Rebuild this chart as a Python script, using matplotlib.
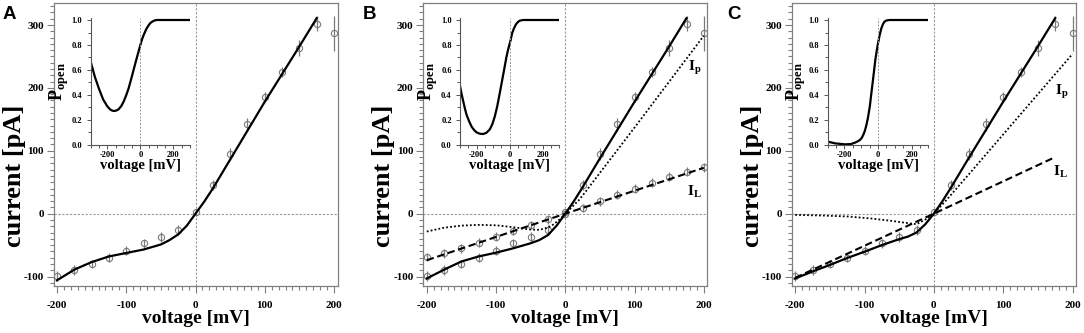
import numpy as np
import matplotlib
matplotlib.use("Agg")
import matplotlib.pyplot as plt
from matplotlib.ticker import MultipleLocator, FormatStrFormatter

plt.rcParams.update({
    "font.family": "Liberation Serif",
    "font.weight": "bold",
    "axes.unicode_minus": False,
    "mathtext.fontset": "custom",
    "mathtext.rm": "Liberation Serif",
    "mathtext.bf": "Liberation Serif:bold",
})

# measured points (mV, pA)
volt = [-200, -175, -150, -125, -100, -75, -50, -25, 0, 25, 50, 75, 100, 125, 150, 175, 200]
cur_total = [-99, -90, -80, -70, -58.6, -47, -37, -25.5, 2, 46, 95, 142, 185, 226, 263, 302, 287]
err_total = [8, 8, 7, 7, 7, 7, 8, 8, 5, 8, 9, 10, 8, 8, 13, 12, 28]
cur_leak = [-69, -63, -55, -46, -36.5, -27.5, -18, -8.7, 0, 9, 20, 30, 39.5, 49, 59, 67, 74]
err_leak = [7, 7, 7, 7, 7, 7, 7, 7, 5, 7, 7, 7, 7, 7, 7, 7, 7]

# fitted curves
fit_v = [-200, -175, -150, -125, -100, -75, -50, -37.5, -25, -12.5, 0, 12.5, 25, 50, 75, 100, 125, 150, 175]
fit_a = [-106, -89, -77, -68, -62.5, -57, -49, -42, -33, -19, 0, 19, 40, 86, 132, 178, 222, 266, 311]
fit_b = [-103, -89, -76, -68, -62, -55, -47, -42, -34, -19, 0, 20, 42, 88, 133, 178, 222, 266, 311]
fit_c = [-103, -92, -81.5, -70.5, -60.5, -50, -40.5, -36.5, -30, -17, 0, 20, 42, 88, 133, 178, 222, 266, 311]

ip_b_v = [-200, -175, -150, -125, -100, -75, -50, -37.5, -25, -19.5, -12.5, -6, 0, 10, 20, 30, 50, 100, 150, 200]
ip_b = [-28.4, -22.3, -19, -17.8, -18.5, -21.5, -25.3, -25.7, -22, -19, -13, -7, 0, 11, 22, 36, 65, 137, 210, 283]
il_b_v = [-200, 0, 200]
il_b = [-74, 0, 73]

ip_c_v = [-200, -162, -124, -90, -61, -37, -25, -13, 0, 20, 50, 100, 150, 200]
ip_c = [-1.9, -2.9, -4.5, -7.7, -11.4, -15.1, -16.7, -9.8, 0, 24, 62, 126, 190, 254]
il_c_v = [-200, 0, 175]
il_c = [-102, 0, 90]

# open probability insets
po_a_v = [-300, -275, -250, -225, -200, -183, -170, -157, -145, -132, -115, -100, -85, -71, -55, -41,
          -27, -14, 0, 10, 20, 35, 47, 60, 71, 85, 100, 150, 300]
po_a = [0.666, 0.546, 0.45, 0.365, 0.31, 0.285, 0.275, 0.272, 0.276, 0.285, 0.312, 0.35, 0.40, 0.453,
        0.53, 0.60, 0.67, 0.733, 0.80, 0.845, 0.88, 0.925, 0.952, 0.975, 0.986, 0.996, 1.0, 1.0, 1.0]
po_b_v = [-300, -290, -280, -270, -260, -245, -230, -215, -200, -180, -160, -140, -120, -105, -90, -75,
          -60, -45, -30, -20, -10, 6, 15, 26, 38, 50, 60, 80, 150, 300]
po_b = [0.472, 0.405, 0.347, 0.29, 0.24, 0.19, 0.147, 0.12, 0.101, 0.09, 0.088, 0.098, 0.125, 0.165,
        0.227, 0.31, 0.413, 0.52, 0.627, 0.70, 0.76, 0.84, 0.895, 0.933, 0.965, 0.984, 0.994, 1.0, 1.0, 1.0]
po_c_v = [-300, -255, -196, -160, -137, -120, -108, -98, -88, -78, -69, -59, -49, -40, -30, -23, -16,
          -8, 0, 10, 20, 30, 39, 50, 69, 150, 300]
po_c = [0.027, 0.013, 0.005, 0.008, 0.019, 0.03, 0.04, 0.055, 0.08, 0.115, 0.16, 0.225, 0.307, 0.41,
        0.52, 0.60, 0.68, 0.75, 0.813, 0.88, 0.933, 0.968, 0.987, 0.996, 1.0, 1.0, 1.0]

W, H = 1084, 333
GRAY = "#808080"
PT = "#7a7a7a"


def px_axes(fig, left, right, top, bottom):
    return fig.add_axes([left / W, (H - bottom) / H, (right - left) / W, (bottom - top) / H])


def style_main(ax):
    ax.set_xlim(-205, 205)
    ax.set_ylim(-115, 335)
    ax.xaxis.set_major_locator(MultipleLocator(100))
    ax.xaxis.set_minor_locator(MultipleLocator(10))
    ax.yaxis.set_major_locator(MultipleLocator(100))
    ax.yaxis.set_minor_locator(MultipleLocator(10))
    ax.tick_params(which="both", direction="out", color=GRAY, width=0.8)
    ax.tick_params(which="major", length=5, labelsize=8)
    ax.tick_params(which="minor", length=3)
    ax.tick_params(axis="x", which="major", pad=6)
    ax.tick_params(axis="y", which="major", pad=2)
    for s in ax.spines.values():
        s.set_color(GRAY)
        s.set_linewidth(0.9)
    ax.axhline(0, color="#999999", lw=0.8, ls=(0, (2, 1.5)), zorder=1)
    ax.axvline(0, color="#999999", lw=0.8, ls=(0, (2, 1.5)), zorder=1)
    ax.set_xlabel("voltage [mV]", fontsize=14, fontweight="bold")
    ax.set_ylabel("current [pA]", fontsize=19, fontweight="bold")
    ax.xaxis.set_label_coords(0.5, -0.085)
    ax.yaxis.set_label_coords(-0.098, 0.39)


def points(ax, y, e):
    ax.errorbar(volt, y, yerr=e, fmt="o", mfc="none", mec=PT, ecolor=PT,
                ms=4.5, mew=0.8, elinewidth=0.9, capsize=0, zorder=2)


def inset(fig, left, right, pv, pp):
    ax = px_axes(fig, left, right, 17.5, 145)
    ax.plot(pv, pp, color="black", lw=1.6)
    ax.axvline(0, color="#999999", lw=0.7, ls=(0, (2, 1.5)))
    ax.set_xlim(-300, 300)
    ax.set_ylim(0, 1.02)
    ax.spines["top"].set_visible(False)
    ax.spines["right"].set_visible(False)
    for s in ("left", "bottom"):
        ax.spines[s].set_color("#555555")
        ax.spines[s].set_linewidth(0.8)
    ax.xaxis.set_major_locator(MultipleLocator(200))
    ax.xaxis.set_minor_locator(MultipleLocator(50))
    ax.yaxis.set_major_locator(MultipleLocator(0.2))
    ax.yaxis.set_minor_locator(MultipleLocator(0.1))
    ax.yaxis.set_major_formatter(FormatStrFormatter("%.1f"))
    ax.tick_params(which="both", direction="out", color="#555555", width=0.7, labelsize=6)
    ax.tick_params(which="major", length=3, pad=1.5)
    ax.tick_params(which="minor", length=2)
    ax.tick_params(axis="y", which="major", pad=3)
    ax.patch.set_alpha(0)
    ax.set_xlabel("voltage [mV]", fontsize=10.5, fontweight="bold")
    ax.set_ylabel(r"$\mathbf{P}_{\mathbf{open}}$", fontsize=13)
    ax.xaxis.set_label_coords(0.5, -0.11)
    ax.yaxis.set_label_coords(-0.2, 0.5)
    return ax


fig = plt.figure(figsize=(W / 100, H / 100), dpi=100)

# panel A
axA = px_axes(fig, 53.5, 337.5, 3, 286)
style_main(axA)
points(axA, cur_total, err_total)
axA.plot(fit_v, fit_a, color="black", lw=1.6, zorder=3)
inset(fig, 90.7, 190, po_a_v, po_a)

# panel B
axB = px_axes(fig, 423.3, 707.3, 3, 286)
style_main(axB)
points(axB, cur_total, err_total)
points(axB, cur_leak, err_leak)
axB.plot(fit_v, fit_b, color="black", lw=1.6, zorder=3)
axB.plot(ip_b_v, ip_b, color="black", lw=1.3, ls=(0, (1, 1.2)), zorder=3)
axB.plot(il_b_v, il_b, color="black", lw=1.5, ls=(0, (3.5, 1.8)), zorder=3)
axB.text(186.5, 232, r"$\mathbf{I}_{\mathbf{p}}$", fontsize=11, ha="center", va="center")
axB.text(186.5, 35, r"$\mathbf{I}_{\mathbf{L}}$", fontsize=11, ha="center", va="center")
inset(fig, 460, 559.3, po_b_v, po_b)

# panel C
axC = px_axes(fig, 791.7, 1076, 3, 286)
style_main(axC)
points(axC, cur_total, err_total)
axC.plot(fit_v, fit_c, color="black", lw=1.6, zorder=3)
axC.plot(ip_c_v, ip_c, color="black", lw=1.3, ls=(0, (1, 1.2)), zorder=3)
axC.plot(il_c_v, il_c, color="black", lw=1.5, ls=(0, (3.5, 1.8)), zorder=3)
axC.text(184, 194, r"$\mathbf{I}_{\mathbf{p}}$", fontsize=11, ha="center", va="center")
axC.text(182, 67, r"$\mathbf{I}_{\mathbf{L}}$", fontsize=11, ha="center", va="center")
inset(fig, 827.7, 928.3, po_c_v, po_c)

for lab, x in (("A", 3), ("B", 363), ("C", 727)):
    fig.text(x / W, 1 - 6 / H, lab, fontsize=13.5, fontweight="bold",
             family="Liberation Sans", ha="left", va="top")

fig.savefig("out.png", dpi=100)
